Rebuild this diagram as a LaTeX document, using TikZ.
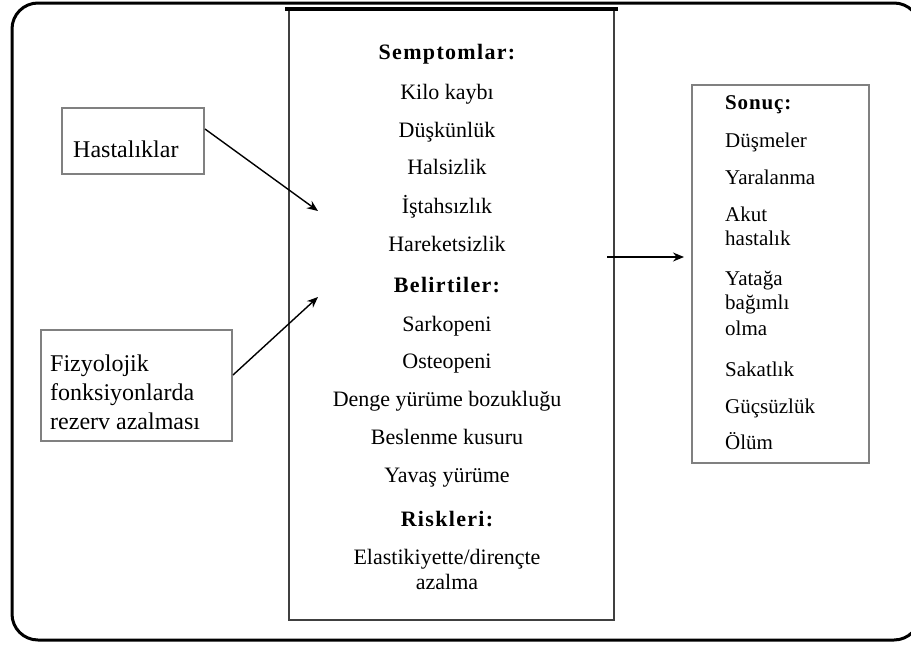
\documentclass[tikz,border=0pt]{standalone}
\usepackage{fontspec}
\setmainfont{Liberation Serif}
\usetikzlibrary{arrows.meta}
\tikzset{
  outerframe/.style={line width=3pt, rounded corners=26pt},
  midbox/.style={draw=black!75, line width=1.4pt, inner sep=0pt},
  sidebox/.style={draw=black!50, line width=2pt, inner sep=0pt},
  arr/.style={line width=1.4pt, -{Stealth[length=11pt,width=9pt]}},
  ctext/.style={anchor=base, inner sep=0pt, font=\fontsize{22}{26}\selectfont},
  chead/.style={ctext, font=\fontsize{22}{26}\selectfont\bfseries\addfontfeature{LetterSpace=6}},
  rtext/.style={anchor=base west, inner sep=0pt, font=\fontsize{21}{25}\selectfont},
  rhead/.style={rtext, font=\fontsize{21}{25}\selectfont\bfseries\addfontfeature{LetterSpace=4}},
  ltext/.style={anchor=base west, inner sep=0pt, font=\fontsize{24}{28}\selectfont},
}
\begin{document}
\begin{tikzpicture}[x=1pt, y=-1pt]
\useasboundingbox (0,0) rectangle (911,646);

% rounded outer frame, its right side beyond the page edge
\begin{scope}
  \clip (0,0) rectangle (911,646);
  \draw[outerframe] (12,3) rectangle (920,640);
\end{scope}

% boxes
\node[midbox, minimum width=325pt, minimum height=610pt] (mid) at (451.5,315) {};
\draw[line width=4pt] ([xshift=-3pt]mid.north west) -- ([xshift=3pt]mid.north east);
\node[sidebox, minimum width=177pt, minimum height=378pt] (res) at (780.5,274) {};
\node[sidebox, minimum width=142pt, minimum height=66pt] (hast) at (133,141) {};
\node[sidebox, minimum width=191pt, minimum height=111pt] (fiz) at (136.5,385.5) {};

% left box texts
\node[ltext] (hastT) at (73,157) {Hastalıklar};
\node[ltext] (fizA) at (50,371) {Fizyolojik};
\node[ltext] (fizB) at (50,400) {fonksiyonlarda};
\node[ltext] (fizC) at (50,429) {rezerv azalması};

% centre column
\node[chead] (sem) at (447,59) {Semptomlar:};
\node[ctext] (s1) at (447,99) {Kilo kaybı};
\node[ctext] (s2) at (447,137) {Düşkünlük};
\node[ctext] (s3) at (447,174) {Halsizlik};
\node[ctext] (s4) at (447,213) {İştahsızlık};
\node[ctext] (s5) at (447,251) {Hareketsizlik};
\node[chead] (bel) at (447,292) {Belirtiler:};
\node[ctext] (b1) at (447,331) {Sarkopeni};
\node[ctext] (b2) at (447,368) {Osteopeni};
\node[ctext] (b3) at (447,406) {Denge yürüme bozukluğu};
\node[ctext] (b4) at (447,444) {Beslenme kusuru};
\node[ctext] (b5) at (447,482) {Yavaş yürüme};
\node[chead] (ris) at (447,526) {Riskleri:};
\node[ctext] (r1) at (447,564) {Elastikiyette/dirençte};
\node[ctext] (r2) at (447,589) {azalma};

% outcomes
\node[rhead] (son) at (725,109) {Sonuç:};
\node[rtext] (o1) at (725,147) {Düşmeler};
\node[rtext] (o2) at (725,184) {Yaralanma};
\node[rtext] (o3) at (725,221) {Akut};
\node[rtext] (o3b) at (725,245) {hastalık};
\node[rtext] (o4) at (725,285) {Yatağa};
\node[rtext] (o4b) at (725,309) {bağımlı};
\node[rtext] (o4c) at (725,335) {olma};
\node[rtext] (o5) at (725,376) {Sakatlık};
\node[rtext] (o6) at (725,413) {Güçsüzlük};
\node[rtext] (o7) at (725,449) {Ölüm};

% connectors
\coordinate (in1) at (318,211);
\coordinate (in2) at (318,297);
\coordinate (outS) at (607,257);
\draw[arr] ([yshift=12pt]hast.east) -- (in1);
\draw[arr] ([yshift=10.5pt]fiz.east) -- (in2);
\draw[arr, shorten >=7pt] (outS) -- (outS -| res.west);
\end{tikzpicture}
\end{document}
